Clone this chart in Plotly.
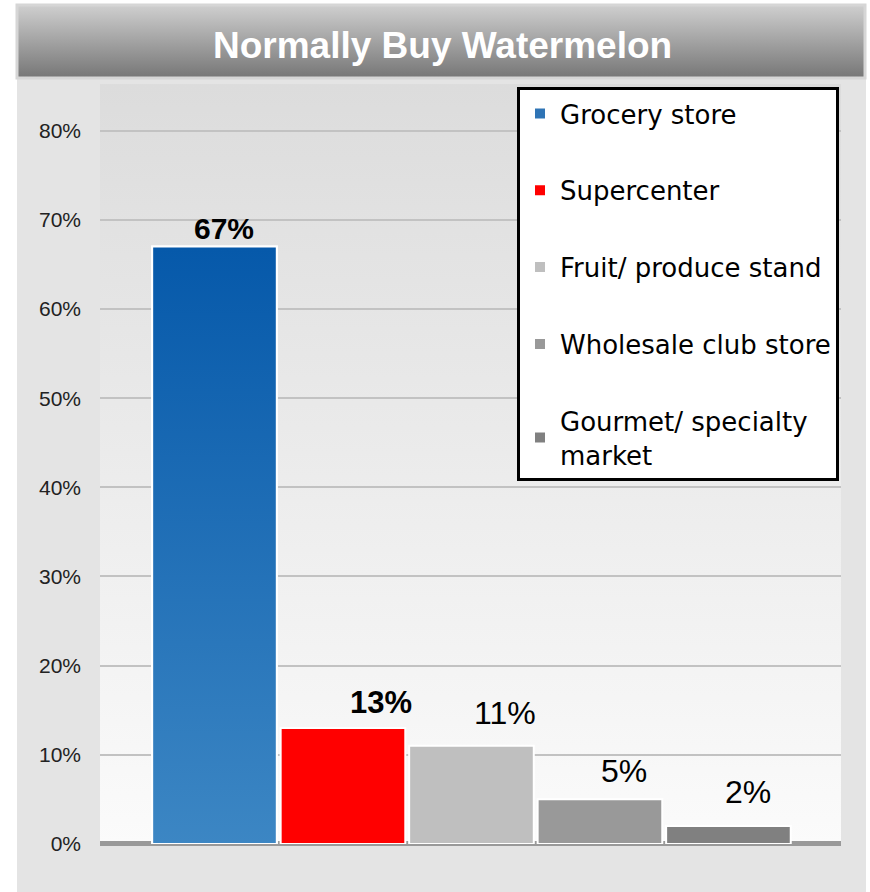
import base64
import plotly.graph_objects as go

# ---------------- data ----------------
categories = ["Grocery store", "Supercenter", "Fruit/ produce stand",
              "Wholesale club store", "Gourmet/ specialty<br>market"]
values = [67, 13, 11, 5, 2]
value_labels = ["67%", "13%", "11%", "5%", "2%"]
tick_vals = [0, 10, 20, 30, 40, 50, 60, 70, 80]
tick_text = ["0%", "10%", "20%", "30%", "40%", "50%", "60%", "70%", "80%"]
title_text = "Normally Buy Watermelon"

# ---------------- styles ----------------
bar_colors = ["#2f74b5", "#ff0000", "#bfbfbf", "#999999", "#808080"]
label_bold = [True, True, False, False, False]
label_size = [30, 31, 32, 32, 32]
label_dx = [10, 38, 34, 24, 20]
label_dy = [0, 6, 13, 8, 14]

W, H = 870, 904
REF_H = 892


def px(x):
    return x / W


def py(y):
    # y given in reference pixels
    return 1 - y / REF_H


def grad_uri(top, bottom):
    svg = (
        '<svg xmlns="http://www.w3.org/2000/svg" width="100" height="100" '
        'viewBox="0 0 100 100" preserveAspectRatio="none">'
        '<defs><linearGradient id="g" x1="0" y1="0" x2="0" y2="1">'
        f'<stop offset="0" stop-color="{top}"/>'
        f'<stop offset="1" stop-color="{bottom}"/>'
        '</linearGradient></defs>'
        '<rect x="0" y="0" width="100" height="100" fill="url(#g)"/></svg>'
    )
    return "data:image/svg+xml;base64," + base64.b64encode(svg.encode()).decode()


BAR_W = 0.97
fig = go.Figure()

for i, (cat, v, c) in enumerate(zip(categories, values, bar_colors)):
    fig.add_trace(go.Bar(
        x=[i], y=[v], name=cat, width=BAR_W,
        marker=dict(color=c, line=dict(color="white", width=2)),
        legendgroup=f"g{i}", showlegend=True, hoverinfo="skip",
    ))

# vertical gradient for the blue bar, built from its data value
x0, x1 = 0 - BAR_W / 2, 0 + BAR_W / 2
fig.add_trace(go.Scatter(
    x=[x0, x0, x1, x1, x0], y=[0, values[0], values[0], 0, 0],
    mode="lines", fill="toself",
    line=dict(color="white", width=2),
    fillgradient=dict(type="vertical", start=0, stop=values[0],
                      colorscale=[[0, "#3d87c4"], [1, "#0659aa"]]),
    showlegend=False, hoverinfo="skip",
))

annotations = []
for i, (v, lab) in enumerate(zip(values, value_labels)):
    annotations.append(dict(
        x=i, y=v, xref="x", yref="y", text=f"<b>{lab}</b>" if label_bold[i] else lab,
        showarrow=False, xanchor="center", yanchor="bottom",
        xshift=label_dx[i], yshift=label_dy[i],
        font=dict(family="Liberation Sans, Arial", size=label_size[i], color="#000"),
    ))

annotations.append(dict(
    x=px(442), y=py(45), xref="paper", yref="paper", text=f"<b>{title_text}</b>",
    showarrow=False, xanchor="center", yanchor="middle",
    font=dict(family="Liberation Sans, Arial", size=37, color="white"),
))

images = [
    dict(source=grad_uri("#dcdcdc", "#fbfbfb"), xref="paper", yref="paper",
         x=px(100), y=py(84), sizex=(841 - 100) / W, sizey=(843 - 84) / REF_H,
         xanchor="left", yanchor="top", sizing="stretch", layer="below"),
    dict(source=grad_uri("#cfcfcf", "#767676"), xref="paper", yref="paper",
         x=px(17), y=py(5), sizex=(865 - 17) / W, sizey=(78 - 5) / REF_H,
         xanchor="left", yanchor="top", sizing="stretch", layer="below"),
]

shapes = [
    dict(type="rect", xref="paper", yref="paper", x0=0, x1=px(17), y0=0, y1=1,
         fillcolor="white", line=dict(width=0), layer="below"),
    dict(type="rect", xref="paper", yref="paper", x0=0, x1=1, y0=py(4), y1=1,
         fillcolor="white", line=dict(width=0), layer="below"),
    dict(type="rect", xref="paper", yref="paper", x0=px(866), x1=1, y0=0, y1=1,
         fillcolor="white", line=dict(width=0), layer="below"),
    dict(type="rect", xref="paper", yref="paper", x0=px(17), x1=px(865),
         y0=py(78), y1=py(5), line=dict(color="#d6d6d6", width=3), layer="below"),
]

fig.update_layout(
    width=W, height=H, autosize=False,
    margin=dict(l=0, r=0, t=0, b=0, pad=0),
    paper_bgcolor="#e4e4e4",
    plot_bgcolor="rgba(0,0,0,0)",
    barmode="overlay",
    showlegend=True,
    legend=dict(
        x=px(517), y=py(87), xanchor="left", yanchor="top",
        bgcolor="white", bordercolor="#000", borderwidth=3,
        font=dict(family="DejaVu Sans", size=26, color="#000"),
        traceorder="grouped", tracegroupgap=40,
        itemclick=False, itemdoubleclick=False,
    ),
    xaxis=dict(domain=[px(100), px(841)], range=[-0.891, 4.876],
               showticklabels=False, showgrid=False, zeroline=False,
               showline=False, ticks="", fixedrange=True),
    yaxis=dict(domain=[py(843), py(86)], range=[0, 85],
               tickvals=tick_vals, ticktext=tick_text,
               tickfont=dict(family="Liberation Sans, Arial", size=21, color="#222"),
               showgrid=True, gridcolor="#c2c2c2", gridwidth=2,
               zeroline=True, zerolinecolor="#999999", zerolinewidth=5,
               showline=False, ticks="", ticklabelstandoff=18, fixedrange=True),
    annotations=annotations,
    images=images,
    shapes=shapes,
    hovermode=False,
)

fig.write_html("out.html", config={"responsive": False, "displayModeBar": False})
